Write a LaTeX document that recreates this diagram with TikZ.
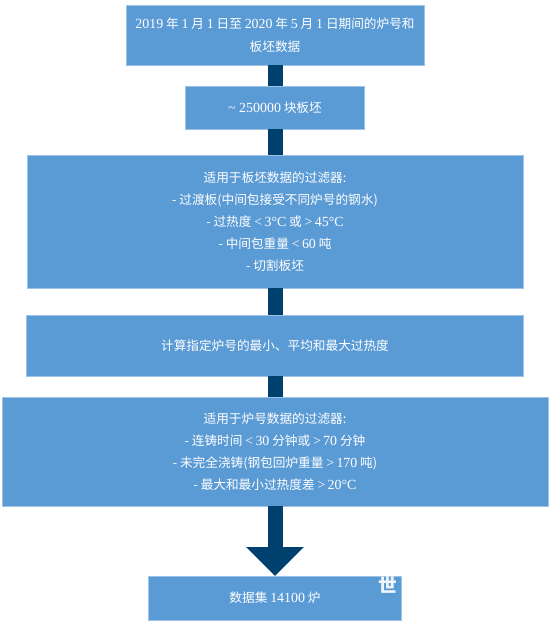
\documentclass[tikz,border=0pt]{standalone}
\usepackage{fontspec}
\setmainfont{Noto Sans CJK SC}
\newfontfamily\latfont[Scale=1.1]{Liberation Serif}
\newcommand{\latn}[1]{{\latfont #1}}
\usepackage{xcolor}
\usetikzlibrary{positioning,arrows.meta}
\definecolor{boxblue}{HTML}{5B9BD5}
\definecolor{boxedge}{HTML}{9DC3E6}
\definecolor{arrowblue}{HTML}{00406F}

\begin{document}
\begin{tikzpicture}[x=0.03cm, y=-0.03cm, >=latex,
  every node/.style={fill=boxblue, draw=boxedge, line width=0.4pt, text=white,
  align=center, inner sep=0pt, outer sep=0pt,
  font=\fontsize{10.8pt}{18.7pt}\selectfont},
  link/.style={draw=arrowblue, line width=0.45cm}]
  \useasboundingbox (0,0) rectangle (554,625);
  \node[minimum width=8.94cm, minimum height=1.8cm,
    font=\fontsize{10.8pt}{19.6pt}\selectfont] (period) at (275,35)
    {\latn{2019} 年 \latn{1} 月 \latn{1} 日至 \latn{2020} 年 \latn{5} 月 \latn{1} 日期间的炉号和\\ 板坯数据};
  \node[below=0.63cm of period, minimum width=5.37cm, minimum height=1.29cm] (slabs)
    {\latn{\textasciitilde{} 250000} 块板坯};
  \node[below=0.78cm of slabs, minimum width=14.88cm, minimum height=3.99cm] (slabfilter)
    {适用于板坯数据的过滤器:\\ - 过渡板(中间包接受不同炉号的钢水)\\
     - 过热度 \latn{<\,3°C} 或 \latn{>\,45°C}\\ - 中间包重量 \latn{<\,60} 吨\\ - 切割板坯};
  \node[below=0.81cm of slabfilter, minimum width=14.91cm, minimum height=1.83cm] (calc)
    {计算指定炉号的最小、平均和最大过热度};
  \node[below=0.63cm of calc, minimum width=16.38cm, minimum height=3.27cm] (heatfilter)
    {适用于炉号数据的过滤器:\\ - 连铸时间 \latn{<\,30} 分钟或 \latn{>\,70} 分钟\\
     - 未完全浇铸(钢包回炉重量 \latn{>\,170} 吨)\\ - 最大和最小过热度差 \latn{>\,20°C}};
  \node[below=2.1cm of heatfilter, minimum width=7.59cm, minimum height=1.32cm] (dataset)
    {数据集 \latn{14100} 炉};
  \node[fill=none, draw=none, text=white!90!boxblue,
    font=\bfseries\fontsize{16pt}{16pt}\selectfont,
    anchor=north] (wm) at (388,577) {世};
  \draw[link] (period) -- (slabs);
  \draw[link] (slabs) -- (slabfilter);
  \draw[link] (slabfilter) -- (calc);
  \draw[link] (calc) -- (heatfilter);
  \draw[link, -{Triangle[width=1.68cm, length=0.87cm]}] (heatfilter) -- (dataset);
\end{tikzpicture}
\end{document}
